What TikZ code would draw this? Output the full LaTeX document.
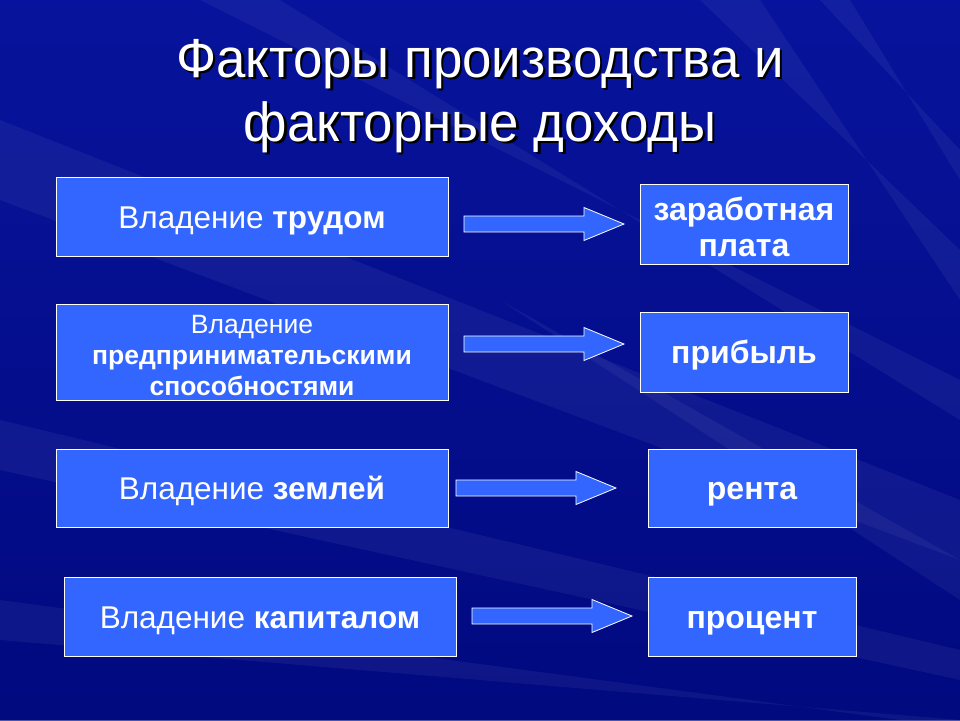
\documentclass[tikz,border=0pt]{standalone}
\usepackage{fontspec}
\setmainfont{Liberation Sans}
\newfontfamily\titlefont[FakeStretch=0.96]{Liberation Sans}
\definecolor{bgdark}{HTML}{020A80}
\definecolor{bgmid}{HTML}{0A18A8}
\definecolor{boxblue}{HTML}{3366FF}
\tikzset{
  x=1pt,y=-1pt,
  factorbox/.style={draw=white,line width=0.8pt,fill=boxblue,text=white,align=center,font=\fontsize{31.5}{34}\selectfont},
  oneline/.style={text height=23pt,text depth=0pt},
  smallfactor/.style={factorbox,font=\fontsize{26.5}{31}\selectfont},
  incomebox/.style={draw=white,line width=0.8pt,fill=boxblue,text=white,align=center,font=\bfseries\fontsize{32}{36}\selectfont},
  plaintext/.style={draw=none,fill=none},
  flowarrow/.style={draw=white,line width=0.8pt,fill=boxblue},
  streak/.style={fill=white,opacity=0.05},
  titletext/.style={text=white,align=center,font=\titlefont\fontsize{55}{64}\selectfont}
}
\begin{document}
\begin{tikzpicture}
\useasboundingbox (0,0) rectangle (960,720);
% background
\fill[bgdark] (0,0) rectangle (960,720);
\shade[top color=bgmid,bottom color=bgdark,opacity=0.7] (0,0) rectangle (960,720);
\fill[streak] (0,120) -- (0,200) -- (960,560) -- (960,500) -- cycle;
\fill[streak] (200,0) -- (280,0) -- (960,420) -- (960,380) -- cycle;
\fill[streak] (0,420) -- (0,470) -- (960,680) -- (960,650) -- cycle;
\fill[streak] (700,0) -- (760,0) -- (960,300) -- (960,250) -- cycle;
\fill[streak] (820,0) -- (850,0) -- (960,180) -- (960,150) -- cycle;
\fill[streak] (0,600) -- (0,640) -- (960,720) -- (900,720) -- cycle;
\fill[streak] (500,300) -- (960,560) -- (960,600) -- cycle;
% title with shadow
\node[titletext,text=black] at (482.5,98.5) {Факторы производства и\\факторные доходы};
\node[titletext] (title) at (480,96) {Факторы производства и\\факторные доходы};
% left boxes
\node[factorbox,oneline,minimum width=392,minimum height=79] (f1) at (252,216.5) {Владение \textbf{трудом}};
\node[smallfactor,minimum width=392,minimum height=96] (f2) at (252,352) {};
\node[smallfactor,plaintext] (f2t) at (252,356) {Владение\\\textbf{предпринимательскими}\\\textbf{способностями}};
\node[factorbox,oneline,minimum width=392,minimum height=78] (f3) at (252,488) {Владение \textbf{землей}};
\node[factorbox,oneline,minimum width=392,minimum height=79] (f4) at (260,616.5) {Владение \textbf{капиталом}};
% right boxes
\node[incomebox,minimum width=208,minimum height=80] (r1) at (744,224) {};
\node[incomebox,plaintext] (r1t) at (744,227) {заработная\\плата};
\node[incomebox,oneline,minimum width=208,minimum height=80] (r2) at (744,352) {прибыль};
\node[incomebox,oneline,minimum width=208,minimum height=78] (r3) at (752,488) {рента};
\node[incomebox,oneline,minimum width=208,minimum height=79] (r4) at (752,616.5) {процент};
% arrows
\coordinate (a1s) at (464,224); \coordinate (a1e) at (624,224);
\coordinate (a2s) at (464,344); \coordinate (a2e) at (624,344);
\coordinate (a3s) at (456,488); \coordinate (a3e) at (616,488);
\coordinate (a4s) at (472,616); \coordinate (a4e) at (632,616);
\foreach \s/\e in {a1s/a1e,a2s/a2e,a3s/a3e,a4s/a4e}{
  \draw[flowarrow] ([yshift=-8]\s) -- ([xshift=-40,yshift=-8]\e) -- ([xshift=-40,yshift=-16.5]\e) -- (\e) -- ([xshift=-40,yshift=16.5]\e) -- ([xshift=-40,yshift=8]\e) -- ([yshift=8]\s) -- cycle;
}
\end{tikzpicture}
\end{document}
